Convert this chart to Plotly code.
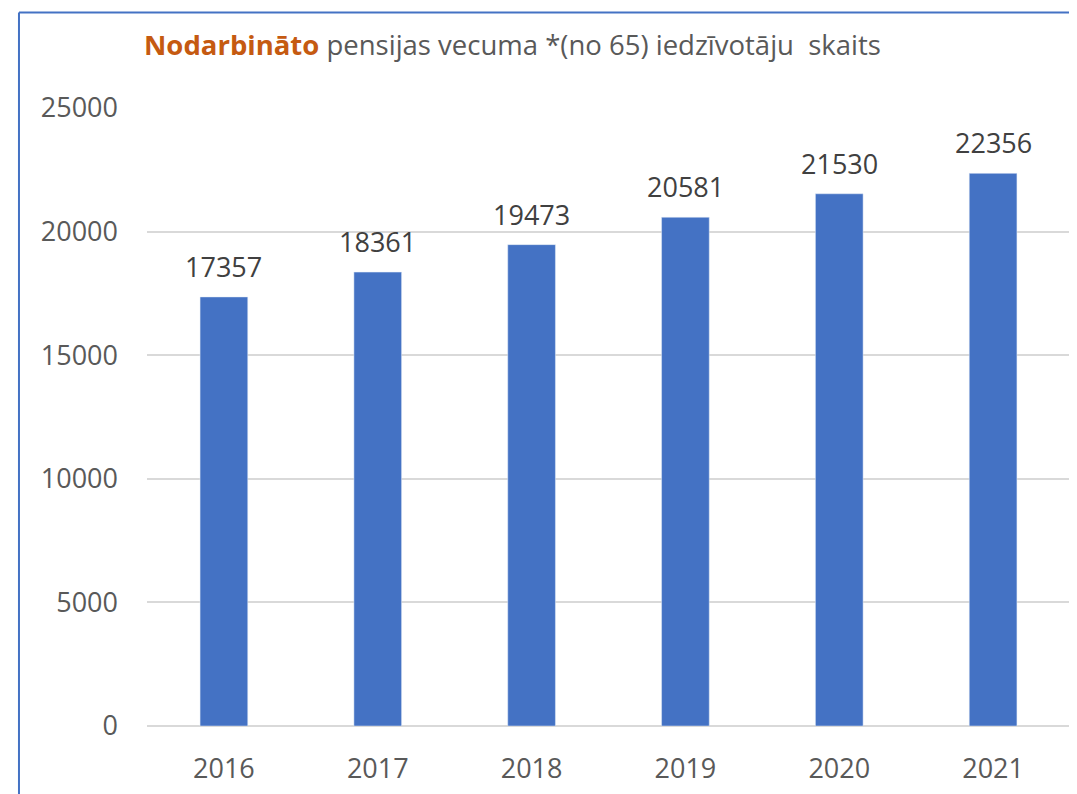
import plotly.graph_objects as go

years = ["2016", "2017", "2018", "2019", "2020", "2021"]
counts = [17357, 18361, 19473, 20581, 21530, 22356]
y_ticks = [0, 5000, 10000, 15000, 20000, 25000]

title_bold = "Nodarbināto"
title_rest = " pensijas vecuma *(no 65) iedzīvotāju  skaits"

FONT = "Open Sans"

fig = go.Figure(go.Bar(
    x=years,
    y=counts,
    marker_color="#4472C4",
    width=0.31,
))

# value labels above bars; numeric-looking category names would be read as
# indices, so the category index is passed instead
for i, v in enumerate(counts):
    fig.add_annotation(
        x=i, y=v, text=str(v), showarrow=False,
        yanchor="bottom", yshift=10,
        font=dict(family=FONT, size=27, color="#404040"),
    )

# the page adds an 8px body margin, so the margins are trimmed by that amount
fig.update_layout(
    width=1077, height=794,
    margin=dict(l=139, r=15, t=100, b=76),
    paper_bgcolor="white", plot_bgcolor="white",
    showlegend=False,
    font=dict(family=FONT, color="#595959"),
)
fig.update_yaxes(
    range=[0, 25000], tickvals=y_ticks, ticktext=[str(v) for v in y_ticks],
    showgrid=True, gridcolor="#D9D9D9", gridwidth=1.5,
    zeroline=True, zerolinecolor="#D9D9D9", zerolinewidth=1.5,
    tickfont=dict(family=FONT, size=27, color="#595959"),
    ticklabelstandoff=28, showline=False,
)
fig.update_xaxes(
    type="category", range=[-0.5, len(years) - 0.5],
    tickfont=dict(family=FONT, size=27, color="#595959"),
    ticklabelstandoff=24, showline=False, showgrid=False,
)

fig.add_annotation(
    xref="paper", yref="paper", x=-0.005, y=1.102,
    xanchor="left", yanchor="middle", showarrow=False,
    text=f"<b><span style='color:#C55A11'>{title_bold}</span></b>{title_rest}",
    font=dict(family=FONT, size=27.5, color="#595959"),
)

# frame lines of the chart box (left and top)
fig.add_shape(type="line", xref="paper", yref="paper",
              x0=-0.1387, x1=-0.1387, y0=-0.14, y1=1.1546,
              line=dict(color="#4472C4", width=2))
fig.add_shape(type="line", xref="paper", yref="paper",
              x0=-0.1387, x1=1.03, y0=1.1546, y1=1.1546,
              line=dict(color="#4472C4", width=2))

fig.write_html("out.html")
